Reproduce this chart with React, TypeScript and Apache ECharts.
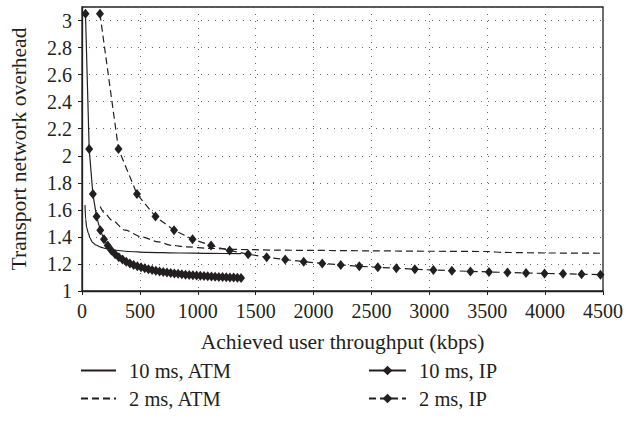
import React, { useEffect, useRef } from "react";
import * as echarts from "echarts";

// Achieved user throughput (kbps) / transport network overhead
const atm10X = [26, 32, 40, 54, 70, 90, 120, 160, 200, 269, 400, 556, 842, 1100, 1375];
const atm10Y = [1.635, 1.53, 1.47, 1.43, 1.39, 1.36, 1.34, 1.325, 1.315, 1.303, 1.292, 1.286, 1.281, 1.278, 1.276];

const atm2X = [157, 200, 258, 372, 515, 659, 773, 900, 1100, 1375, 1700, 2000, 2500, 3000, 3500, 3650, 4000, 4480];
const atm2Y = [1.625, 1.57, 1.524, 1.45, 1.4, 1.363, 1.338, 1.327, 1.315, 1.307, 1.302, 1.3, 1.297, 1.294, 1.292, 1.285, 1.281, 1.279];

const ip10X = [30, 62, 94, 126, 158, 190, 222, 254, 286, 318, 350, 382, 414, 446, 478, 510, 542, 574, 606, 638, 670, 702, 734, 766, 798, 830, 862, 894, 926, 958, 990, 1022, 1054, 1086, 1118, 1150, 1182, 1214, 1246, 1278, 1310, 1342, 1374];
const ip10Y = [3.05, 2.05, 1.717, 1.55, 1.45, 1.383, 1.336, 1.3, 1.272, 1.25, 1.232, 1.217, 1.204, 1.193, 1.183, 1.175, 1.168, 1.161, 1.155, 1.15, 1.145, 1.141, 1.137, 1.133, 1.13, 1.127, 1.124, 1.121, 1.119, 1.117, 1.115, 1.113, 1.111, 1.109, 1.107, 1.106, 1.104, 1.103, 1.101, 1.1, 1.099, 1.098, 1.097];

const ip2X = [155, 315, 475, 635, 795, 955, 1115, 1275, 1435, 1595, 1755, 1915, 2075, 2235, 2395, 2555, 2715, 2875, 3035, 3195, 3355, 3515, 3675, 3835, 3995, 4155, 4315, 4478];
const ip2Y = [3.05, 2.05, 1.717, 1.55, 1.45, 1.383, 1.336, 1.3, 1.272, 1.25, 1.232, 1.217, 1.204, 1.193, 1.183, 1.175, 1.168, 1.161, 1.155, 1.15, 1.145, 1.141, 1.137, 1.133, 1.13, 1.127, 1.124, 1.121];

const seriesNames = ["10 ms, ATM", "2 ms, ATM", "10 ms, IP", "2 ms, IP"];

const zip = (xs: number[], ys: number[]) => xs.map((x, i) => [x, ys[i]]);

const FONT = "'Liberation Serif', 'Times New Roman', serif";
const INK = "#231f20";

export default function App() {
  const ref = useRef<HTMLDivElement>(null);
  useEffect(() => {
    if (!ref.current) return;
    const chart = echarts.init(ref.current, undefined, { renderer: "svg" });
    const dotted = { color: "#666", width: 1, type: [1, 6] as any };
    const legendText = { fontFamily: FONT, fontSize: 20.5, color: INK, lineHeight: 20, padding: [0, 0, 0, 8] };
    const hidden = { opacity: 0, color: "transparent", borderWidth: 0 };
    chart.setOption({
      animation: false,
      backgroundColor: "#fff",
      grid: { left: 80, right: 22, top: 7, height: 284, show: true, borderColor: INK, borderWidth: 1.3, backgroundColor: "transparent" },
      xAxis: {
        type: "value",
        min: 0,
        max: 4500,
        interval: 500,
        name: "Achieved user throughput (kbps)",
        nameLocation: "middle",
        nameGap: 40,
        nameTextStyle: { fontFamily: FONT, fontSize: 21.5, color: INK },
        axisLine: { show: true, onZero: false, lineStyle: { color: INK, width: 1.3 } },
        axisTick: { show: true, length: 4, inside: false, lineStyle: { color: INK } },
        axisLabel: { fontFamily: FONT, fontSize: 20, color: INK, margin: 10, formatter: (v: number) => String(v) },
        splitLine: { show: true, lineStyle: dotted },
      },
      yAxis: {
        type: "value",
        min: 1,
        max: 3.1,
        interval: 0.2,
        name: "Transport network overhead",
        nameLocation: "middle",
        nameGap: 52,
        nameTextStyle: { fontFamily: FONT, fontSize: 21.5, color: INK },
        axisLine: { show: true, onZero: false, lineStyle: { color: INK, width: 1.3 } },
        axisTick: { show: true, length: 4, inside: false, lineStyle: { color: INK } },
        axisLabel: { fontFamily: FONT, fontSize: 20, color: INK, margin: 10, showMaxLabel: false, formatter: (v: number) => String(Math.round(v * 10) / 10) },
        splitLine: { show: true, lineStyle: dotted },
      },
      legend: [
        {
          data: [
            { name: seriesNames[0], itemStyle: hidden },
            { name: seriesNames[1], itemStyle: hidden },
          ],
          orient: "vertical",
          left: 80,
          top: 360,
          height: 60,
          padding: 0,
          itemWidth: 35,
          itemHeight: 12,
          itemGap: 7,
          textStyle: legendText,
          selectedMode: false,
        },
        {
          data: [seriesNames[2], seriesNames[3]],
          orient: "vertical",
          left: 368,
          top: 360,
          height: 60,
          padding: 0,
          itemWidth: 37,
          itemHeight: 12,
          itemGap: 7,
          textStyle: legendText,
          selectedMode: false,
        },
      ],
      series: [
        {
          name: seriesNames[0],
          type: "line",
          data: zip(atm10X, atm10Y),
          showSymbol: false,
          symbol: "none",
          smooth: 0.3,
          smoothMonotone: "x",
          lineStyle: { color: INK, width: 1.2, type: "solid" },
          itemStyle: { color: INK },
        },
        {
          name: seriesNames[1],
          type: "line",
          data: zip(atm2X, atm2Y),
          showSymbol: false,
          symbol: "none",
          smooth: 0.3,
          smoothMonotone: "x",
          lineStyle: { color: INK, width: 1.2, type: [7, 4] },
          itemStyle: { color: INK },
        },
        {
          name: seriesNames[2],
          type: "line",
          data: zip(ip10X, ip10Y),
          symbol: "diamond",
          symbolSize: [8, 10],
          lineStyle: { color: INK, width: 1.2, type: "solid" },
          itemStyle: { color: INK },
        },
        {
          name: seriesNames[3],
          type: "line",
          data: zip(ip2X, ip2Y),
          symbol: "diamond",
          symbolSize: [8, 10],
          lineStyle: { color: INK, width: 1.2, type: [7, 4] },
          itemStyle: { color: INK },
        },
      ],
    });
    return () => chart.dispose();
  }, []);
  return <div ref={ref} style={{ position: "absolute", left: 0, top: 0, width: 626, height: 427 }} />;
}
